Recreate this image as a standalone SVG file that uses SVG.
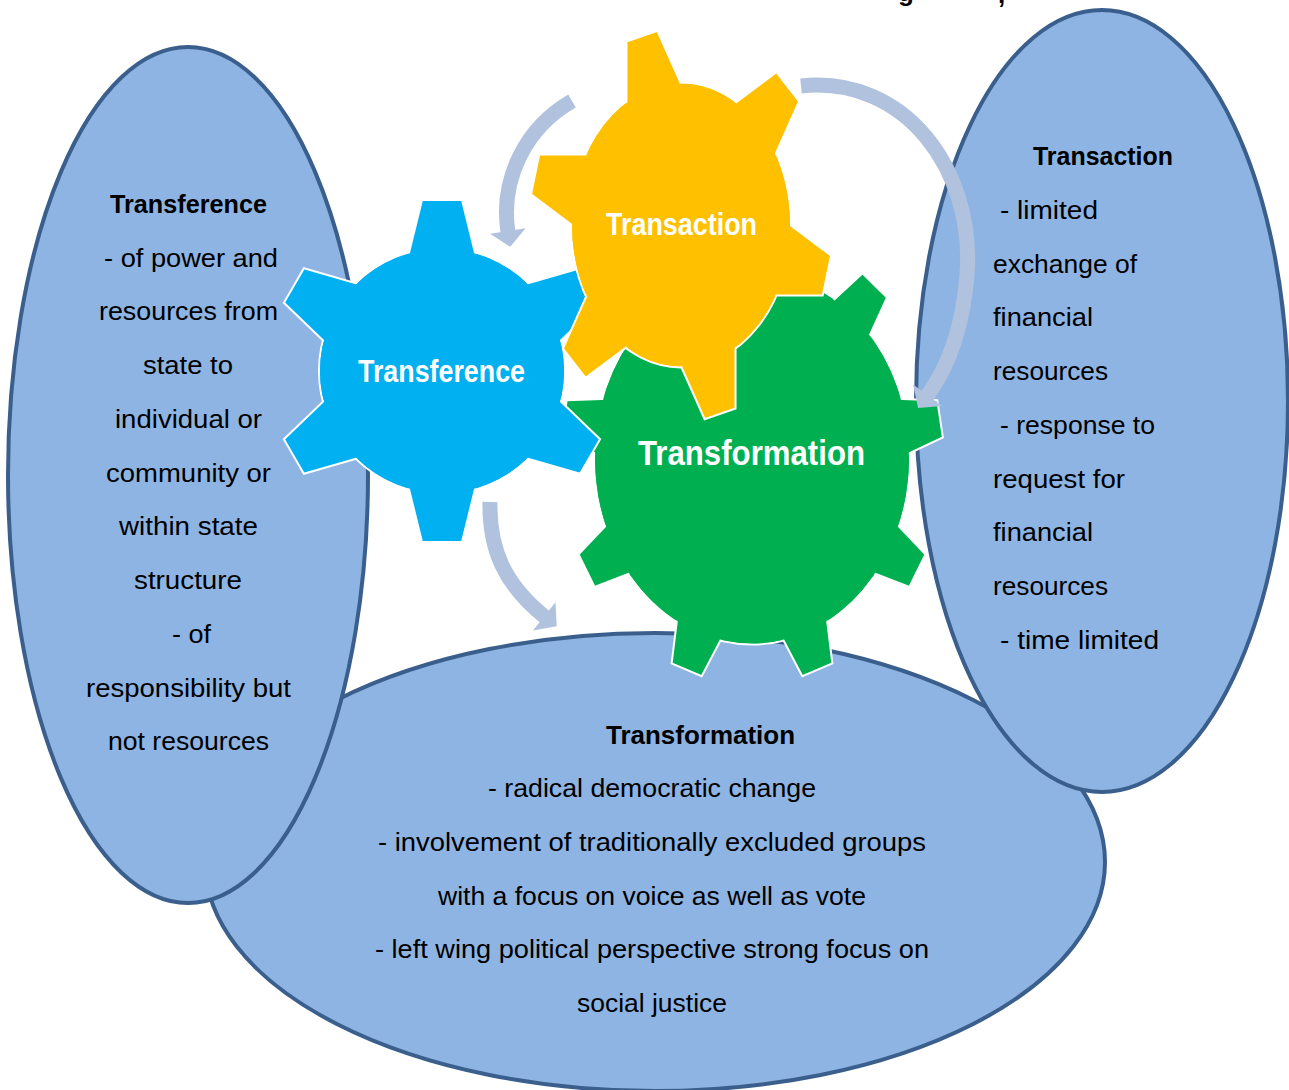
<svg xmlns="http://www.w3.org/2000/svg" xmlns:xlink="http://www.w3.org/1999/xlink" width="1289" height="1090" viewBox="0 0 1289 1090">
<style>
.ell{fill:#8EB4E3;stroke:#3A5F8D;stroke-width:4}
.t{font-family:"Liberation Sans",Arial,sans-serif;font-size:26px;fill:#000}
.tb{font-weight:bold}
.gl{font-family:"Liberation Sans Narrow","Liberation Sans",Arial,sans-serif;font-weight:bold;fill:#fff}
.blue{fill:#00B0F0;stroke:#fff;stroke-width:2}
.yel{fill:#FFC000;stroke:#fff;stroke-width:2}
.grn{fill:#00B050;stroke:#fff;stroke-width:2}
.arr{fill:none;stroke:#B0C2DE;stroke-width:15;stroke-linecap:butt}
</style>
<defs>
<polygon id="toothB" points="106,-36 171,-20 171,20 106,36" vector-effect="non-scaling-stroke"/>
<polygon id="toothY" points="95,-31 151,-16 151,16 95,31" vector-effect="non-scaling-stroke"/>
<polygon id="toothG" points="143,-26 191,-16 191,16 143,26" vector-effect="non-scaling-stroke"/>
<marker id="head" markerUnits="userSpaceOnUse" markerWidth="20" markerHeight="40" viewBox="-2 -20 20 40" refX="0" refY="0" orient="auto" overflow="visible">
<polygon points="-1,-18 15,0 -1,18" fill="#B0C2DE"/>
</marker>
</defs>
<rect width="1289" height="1090" fill="#fff"/>
<text class="t tb" x="898" y="1" font-size="29">g</text>
<text class="t tb" x="998" y="3" font-size="29">,</text>

<g id="node-transformation-oval">
<ellipse class="ell" cx="655" cy="862" rx="450" ry="229"/>
<text class="t">
<tspan class="tb" x="606" y="744" textLength="189" lengthAdjust="spacingAndGlyphs">Transformation</tspan>
<tspan x="488" y="797" textLength="328" lengthAdjust="spacingAndGlyphs">- radical democratic change</tspan>
<tspan x="378" y="851" textLength="548" lengthAdjust="spacingAndGlyphs">- involvement of traditionally excluded groups</tspan>
<tspan x="438" y="905" textLength="428" lengthAdjust="spacingAndGlyphs">with a focus on voice as well as vote</tspan>
<tspan x="375" y="958" textLength="554" lengthAdjust="spacingAndGlyphs">- left wing political perspective strong focus on</tspan>
<tspan x="577" y="1012" textLength="150" lengthAdjust="spacingAndGlyphs">social justice</tspan>
</text>
</g>

<g id="node-transference-oval">
<ellipse class="ell" cx="188" cy="475" rx="180" ry="428"/>
<text class="t">
<tspan class="tb" x="110" y="213" textLength="157" lengthAdjust="spacingAndGlyphs">Transference</tspan>
<tspan x="104" y="267" textLength="174" lengthAdjust="spacingAndGlyphs">- of power and</tspan>
<tspan x="99" y="320" textLength="179" lengthAdjust="spacingAndGlyphs">resources from</tspan>
<tspan x="143" y="374" textLength="90" lengthAdjust="spacingAndGlyphs">state to</tspan>
<tspan x="115" y="428" textLength="147" lengthAdjust="spacingAndGlyphs">individual or</tspan>
<tspan x="106" y="482" textLength="165" lengthAdjust="spacingAndGlyphs">community or</tspan>
<tspan x="119" y="535" textLength="139" lengthAdjust="spacingAndGlyphs">within state</tspan>
<tspan x="134" y="589" textLength="108" lengthAdjust="spacingAndGlyphs">structure</tspan>
<tspan x="172" y="643" textLength="39" lengthAdjust="spacingAndGlyphs">- of</tspan>
<tspan x="86" y="697" textLength="205" lengthAdjust="spacingAndGlyphs">responsibility but</tspan>
<tspan x="108" y="750" textLength="161" lengthAdjust="spacingAndGlyphs">not resources</tspan>
</text>
</g>

<g id="node-transaction-oval">
<ellipse class="ell" cx="1102" cy="401" rx="186" ry="391"/>
<text class="t">
<tspan class="tb" x="1033" y="165" textLength="140" lengthAdjust="spacingAndGlyphs">Transaction</tspan>
<tspan x="1000" y="219" textLength="98" lengthAdjust="spacingAndGlyphs">- limited</tspan>
<tspan x="993" y="273" textLength="144" lengthAdjust="spacingAndGlyphs">exchange of</tspan>
<tspan x="993" y="326" textLength="100" lengthAdjust="spacingAndGlyphs">financial</tspan>
<tspan x="993" y="380" textLength="115" lengthAdjust="spacingAndGlyphs">resources</tspan>
<tspan x="1000" y="434" textLength="155" lengthAdjust="spacingAndGlyphs">- response to</tspan>
<tspan x="993" y="488" textLength="132" lengthAdjust="spacingAndGlyphs">request for</tspan>
<tspan x="993" y="541" textLength="100" lengthAdjust="spacingAndGlyphs">financial</tspan>
<tspan x="993" y="595" textLength="115" lengthAdjust="spacingAndGlyphs">resources</tspan>
<tspan x="1000" y="649" textLength="159" lengthAdjust="spacingAndGlyphs">- time limited</tspan>
</text>
</g>

<g id="gear-transformation">
<g transform="translate(752,458) scale(1,1.18)">
<circle class="grn" r="158" vector-effect="non-scaling-stroke"/>
<g class="grn">
<use xlink:href="#toothG" transform="rotate(-90)"/>
<use xlink:href="#toothG" transform="rotate(-50)"/>
<use xlink:href="#toothG" transform="rotate(-10)"/>
<use xlink:href="#toothG" transform="rotate(30)"/>
<use xlink:href="#toothG" transform="rotate(70)"/>
<use xlink:href="#toothG" transform="rotate(110)"/>
<use xlink:href="#toothG" transform="rotate(150)"/>
<use xlink:href="#toothG" transform="rotate(190)"/>
<use xlink:href="#toothG" transform="rotate(230)"/>
</g>
<circle r="157" fill="#00B050"/>
</g>
<text class="gl" x="638" y="465" font-size="35" textLength="227" lengthAdjust="spacingAndGlyphs">Transformation</text>
</g>

<g id="gear-transference">
<g transform="translate(442,371)">
<circle class="blue" r="123"/>
<g class="blue">
<use xlink:href="#toothB" transform="rotate(-90)"/>
<use xlink:href="#toothB" transform="rotate(-30)"/>
<use xlink:href="#toothB" transform="rotate(30)"/>
<use xlink:href="#toothB" transform="rotate(90)"/>
<use xlink:href="#toothB" transform="rotate(150)"/>
<use xlink:href="#toothB" transform="rotate(210)"/>
</g>
<circle r="122" fill="#00B0F0"/>
</g>
<text class="gl" x="358" y="382" font-size="32" textLength="167" lengthAdjust="spacingAndGlyphs">Transference</text>
</g>

<g id="gear-transaction">
<g transform="translate(681,225) scale(1,1.295)">
<circle class="yel" r="110" vector-effect="non-scaling-stroke"/>
<g class="yel">
<use xlink:href="#toothY" transform="rotate(15)"/>
<use xlink:href="#toothY" transform="rotate(75)"/>
<use xlink:href="#toothY" transform="rotate(135)"/>
<use xlink:href="#toothY" transform="rotate(195)"/>
<use xlink:href="#toothY" transform="rotate(255)"/>
<use xlink:href="#toothY" transform="rotate(315)"/>
</g>
<circle r="109" fill="#FFC000"/>
</g>
<text class="gl" x="606" y="235" font-size="32" textLength="151" lengthAdjust="spacingAndGlyphs">Transaction</text>
</g>

<g id="connectors">
<path class="arr" d="M572,101 C525,128 500,180 508,232" marker-end="url(#head)"/>
<path class="arr" d="M801,86 C905,75 975,170 967,275 C963,325 950,365 927,396" marker-end="url(#head)"/>
<path class="arr" d="M490,502 C489,550 505,585 545,617" marker-end="url(#head)"/>
</g>
</svg>
